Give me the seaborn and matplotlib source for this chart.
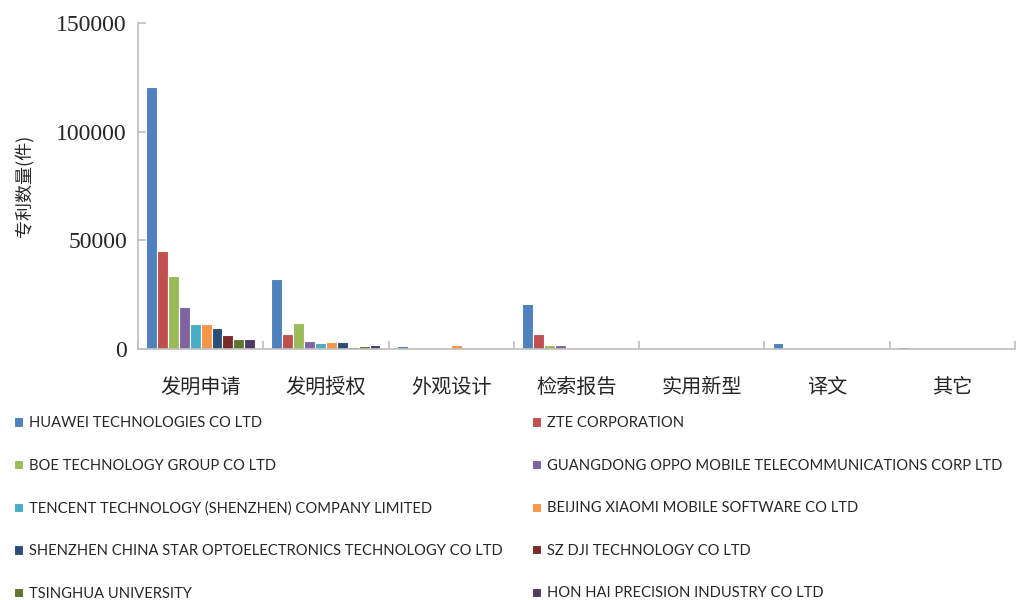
import matplotlib
matplotlib.use("Agg")
import matplotlib.pyplot as plt
import seaborn as sns
import pandas as pd
from matplotlib.ticker import FixedLocator

categories = ["发明申请", "发明授权", "外观设计", "检索报告", "实用新型", "译文", "其它"]
companies = [
    "HUAWEI TECHNOLOGIES CO LTD",
    "ZTE CORPORATION",
    "BOE TECHNOLOGY GROUP CO LTD",
    "GUANGDONG OPPO MOBILE TELECOMMUNICATIONS CORP LTD",
    "TENCENT TECHNOLOGY (SHENZHEN) COMPANY LIMITED",
    "BEIJING XIAOMI MOBILE SOFTWARE CO LTD",
    "SHENZHEN CHINA STAR OPTOELECTRONICS TECHNOLOGY CO LTD",
    "SZ DJI TECHNOLOGY CO LTD",
    "TSINGHUA UNIVERSITY",
    "HON HAI PRECISION INDUSTRY CO LTD",
]
# values per company, ordered as categories
huawei   = [120400, 32200, 1500, 20500, 0, 2800, 800]
zte      = [45200, 6800, 0, 6900, 0, 0, 0]
boe      = [33700, 12000, 0, 1800, 0, 0, 0]
oppo     = [19200, 3500, 0, 1800, 0, 0, 0]
tencent  = [11500, 2600, 0, 0, 0, 0, 0]
xiaomi   = [11500, 3100, 1800, 600, 0, 0, 0]
csot     = [9600, 3100, 0, 0, 0, 0, 0]
dji      = [6400, 800, 0, 0, 0, 0, 0]
tsinghua = [4700, 1500, 0, 0, 0, 0, 0]
honhai   = [4700, 1700, 0, 0, 0, 0, 0]
series = [huawei, zte, boe, oppo, tencent, xiaomi, csot, dji, tsinghua, honhai]
yticks = [0, 50000, 100000, 150000]

colors = ["#4F81BD", "#C0504D", "#9BBB59", "#8064A2", "#4BACC6",
          "#F79646", "#2C4D75", "#772C2A", "#5F7530", "#4D3B62"]

rows = []
for comp, vals in zip(companies, series):
    for cat, v in zip(categories, vals):
        rows.append({"类别": cat, "公司": comp, "数量": v})
df = pd.DataFrame(rows)

sns.set_style("white")
plt.rcParams['font.family'] = ['Noto Sans CJK SC', 'DejaVu Sans']

fig = plt.figure(figsize=(10.22, 6.0), dpi=100)
ax = fig.add_axes([138/1022, 1 - 349/600, (1015-138)/1022, (349-23)/600])

sns.barplot(data=df, x="类别", y="数量", hue="公司", hue_order=companies,
            order=categories, palette=colors, saturation=1, width=0.87, ax=ax,
            edgecolor="white", linewidth=0.8, legend=True, errorbar=None)

ax.set_ylim(0, 150000)
ax.set_xlim(-0.5, len(categories) - 0.5)
ax.set_yticks(yticks)
ax.set_yticklabels([str(t) for t in yticks], fontfamily="Liberation Serif", fontsize=17)
ax.set_xticks(range(len(categories)))
ax.set_xticklabels(categories, fontsize=14.5)
ax.tick_params(axis="x", which="major", length=0, pad=20)
ax.tick_params(axis="y", left=True, direction="in", length=6, color="#BFBFBF", width=1.2, pad=8)
ax.xaxis.set_minor_locator(FixedLocator([i - 0.5 for i in range(len(categories) + 1)]))
ax.tick_params(axis="x", which="minor", bottom=True, direction="in", length=6,
               color="#BFBFBF", width=1.2)
for s in ["top", "right"]:
    ax.spines[s].set_visible(False)
for s in ["left", "bottom"]:
    ax.spines[s].set_color("#BFBFBF")
    ax.spines[s].set_linewidth(1.2)
ax.set_xlabel("")
ax.set_ylabel("专利数量(件)", fontsize=13, labelpad=16)

handles, labels = ax.get_legend_handles_labels()
ax.get_legend().remove()
order = [0, 2, 4, 6, 8, 1, 3, 5, 7, 9]
leg = fig.legend([handles[i] for i in order], [labels[i] for i in order],
                 ncol=2, loc="upper left", bbox_to_anchor=(1/1022, 1 - 403/600),
                 frameon=False, prop={"family": "Lato", "size": 10.6},
                 handlelength=0.6, handleheight=0.6, handletextpad=0.4,
                 labelspacing=1.94, columnspacing=2.0)
fig.savefig("out.png", dpi=100)
